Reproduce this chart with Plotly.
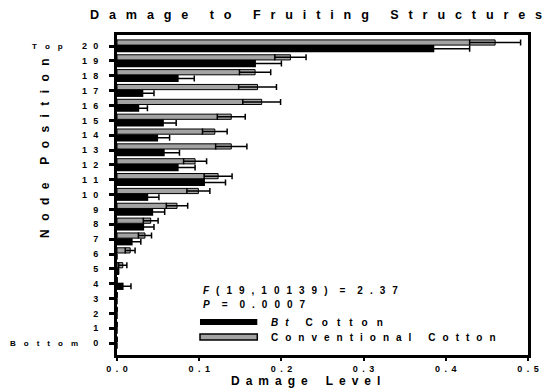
import plotly.graph_objects as go

nodes = list(range(21))
node_labels = [str(n) for n in nodes]
# Bt cotton (black)
bt_vals = [0, 0, 0, 0, 0.008, 0.002, 0, 0.019, 0.033, 0.044, 0.038,
           0.107, 0.075, 0.058, 0.050, 0.057, 0.027, 0.032, 0.075, 0.169, 0.386]
bt_err = [0, 0, 0, 0, 0.009, 0.0, 0, 0.010, 0.012, 0.014, 0.013,
          0.025, 0.020, 0.018, 0.014, 0.015, 0.010, 0.013, 0.019, 0.031, 0.043]
# Conventional cotton (grey)
cv_vals = [0, 0, 0, 0, 0, 0.007, 0.016, 0.034, 0.041, 0.073, 0.099,
           0.123, 0.095, 0.139, 0.119, 0.139, 0.176, 0.171, 0.168, 0.211, 0.460]
cv_err = [0, 0, 0, 0, 0, 0.005, 0.006, 0.008, 0.009, 0.013, 0.014,
          0.017, 0.014, 0.019, 0.015, 0.017, 0.023, 0.023, 0.019, 0.019, 0.031]
x_ticks = [0.0, 0.1, 0.2, 0.3, 0.4, 0.5]

FONT = "Liberation Sans, Arial, sans-serif"


def sp(text, sep="\u2002", wsep="\u2002\u2002"):
    words = text.split(" ")
    return wsep.join(sep.join(list(w)) for w in words)


def b(t):
    return "<b>" + t + "</b>"


fig = go.Figure()
fig.add_trace(go.Bar(
    y=nodes, x=bt_vals, orientation="h", name="Bt Cotton",
    marker=dict(color="black", line=dict(width=0)),
    offset=-0.42, width=0.49,
    error_x=dict(type="data", array=bt_err, visible=True, color="black",
                 thickness=1.5, width=3),
    showlegend=False,
))
fig.add_trace(go.Bar(
    y=nodes, x=cv_vals, orientation="h", name="Conventional Cotton",
    marker=dict(color="#a3a3a3", line=dict(width=1, color="black")),
    offset=0.07, width=0.35,
    error_x=dict(type="data", array=cv_err, visible=True, color="black",
                 thickness=1.5, width=3),
    showlegend=False,
))

# page body has an 8px margin: figure is 8px smaller and shifted
fig.update_layout(
    width=543, height=381,
    margin=dict(l=109, r=18, t=27, b=34),
    plot_bgcolor="white", paper_bgcolor="white",
    font=dict(family=FONT, color="black"),
    barmode="overlay",
    showlegend=False,
)
fig.update_xaxes(
    range=[0, 0.5], tickvals=x_ticks,
    ticktext=[b(sp("%.1f" % v)) for v in x_ticks],
    tickfont=dict(size=9, family=FONT),
    showgrid=False, zeroline=False,
    showline=True, linewidth=3, linecolor="black", mirror=True,
    ticks="outside", ticklen=3, tickwidth=2, tickcolor="black",
)
fig.update_yaxes(
    range=[-0.8, 20.75], tickvals=nodes,
    ticktext=[b(sp(t, "\u2002\u2009")) for t in node_labels],
    tickfont=dict(size=9, family=FONT),
    showgrid=False, zeroline=False,
    showline=True, linewidth=3, linecolor="black", mirror=True,
    ticks="outside", ticklen=5, tickwidth=2.5, tickcolor="black",
    ticklabelstandoff=9,
)


def px(xp):
    return (xp - 117) / 416


def py(yp):
    return (355 - yp) / 320


ann = []
ann.append(dict(text=b(sp("Damage to Fruiting Structures", "\u2002\u2009\u200a", "\u2002\u2002\u2002\u2009")),
                xref="paper", yref="paper", x=px(318), y=py(15),
                xanchor="center", yanchor="middle", showarrow=False,
                font=dict(size=12.6, family=FONT)))
ann.append(dict(text=b(sp("Damage Level", "\u2002", "\u2002\u2002\u2002")),
                xref="paper", yref="paper", x=px(308), y=py(381),
                xanchor="center", yanchor="middle", showarrow=False,
                font=dict(size=12, family=FONT)))
ann.append(dict(text=b(sp("Node Position", "\u2002\u2009", "\u2002\u2002\u2002")),
                xref="paper", yref="paper", x=px(44), y=py(148),
                xanchor="center", yanchor="middle", showarrow=False, textangle=-90,
                font=dict(size=12, family=FONT)))
ann.append(dict(text=b(sp("Top", "\u2002\u2002")), xref="paper", yref="y",
                x=px(47), y=20, xanchor="center", yanchor="middle",
                showarrow=False, font=dict(size=8, family=FONT)))
ann.append(dict(text=b(sp("Bottom", "\u2002\u2002")), xref="paper", yref="y",
                x=px(43), y=0, xanchor="center", yanchor="middle",
                showarrow=False, font=dict(size=8, family=FONT)))
ann.append(dict(text=b("<i>F</i>" + "\u2002\u2009" + sp("(19,10139) = 2.37", "\u2002\u2009", "\u2002\u2002\u2009")),
                xref="paper", yref="paper", x=px(202), y=py(290),
                xanchor="left", yanchor="middle", showarrow=False,
                font=dict(size=10, family=FONT)))
ann.append(dict(text=b("<i>P</i>" + "\u2002\u2002\u2009" + sp("= 0.0007", "\u2002\u2009", "\u2002\u2002\u2009")),
                xref="paper", yref="paper", x=px(202), y=py(304),
                xanchor="left", yanchor="middle", showarrow=False,
                font=dict(size=10, family=FONT)))
ann.append(dict(text=b("<i>" + sp("Bt", "\u2002\u2009") + "</i>" + "\u2002\u2002\u2002\u2009" + sp("Cotton", "\u2002\u2009\u2009")),
                xref="paper", yref="paper", x=px(271), y=py(322),
                xanchor="left", yanchor="middle", showarrow=False,
                font=dict(size=10, family=FONT)))
ann.append(dict(text=b(sp("Conventional Cotton", "\u2002\u2009", "\u2002\u2002\u2002\u2009")),
                xref="paper", yref="paper", x=px(271), y=py(337),
                xanchor="left", yanchor="middle", showarrow=False,
                font=dict(size=10, family=FONT)))
fig.update_layout(annotations=ann)

fig.add_shape(type="rect", xref="paper", yref="paper",
              x0=px(201), x1=px(259), y0=py(325), y1=py(319),
              fillcolor="black", line=dict(width=0))
fig.add_shape(type="rect", xref="paper", yref="paper",
              x0=px(201), x1=px(259), y0=py(340), y1=py(334),
              fillcolor="#a3a3a3", line=dict(width=1.5, color="black"))

fig.write_html("out.html")
